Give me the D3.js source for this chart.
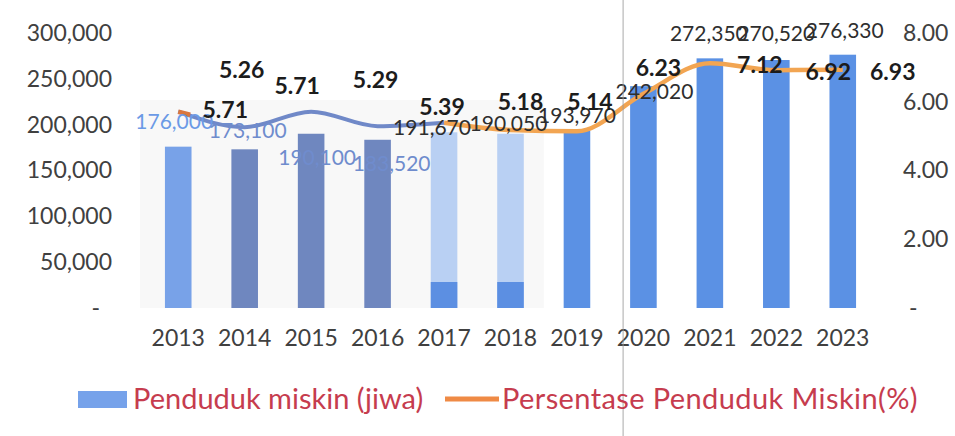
<!DOCTYPE html>
<html lang="id">
<head>
<meta charset="utf-8">
<script src="https://cdnjs.cloudflare.com/ajax/libs/d3/7.8.5/d3.min.js"></script>
<style>
  body { margin: 0; background: #fff; }
  text { font-family: Lato, "Noto Sans", sans-serif; }
</style>
</head>
<body>
<script>
var w = 955, h = 436;

var years = ["2013", "2014", "2015", "2016", "2017", "2018", "2019", "2020", "2021", "2022", "2023"];
var miskin = [176000, 173100, 190100, 183520, 191670, 190050, 193970, 242020, 272350, 270520, 276330];
var persen = [5.71, 5.26, 5.71, 5.29, 5.39, 5.18, 5.14, 6.23, 7.12, 6.92, 6.93];
var leftTicks = [0, 50000, 100000, 150000, 200000, 250000, 300000];
var rightTicks = [0, 2, 4, 6, 8];

// label nudges (dx, dy) from the scaled point, the source chart has them scattered
var barNudge = [[-4, -25], [3, -19], [6, 24], [14, 24], [-12, -5], [-2, -10], [0, -15], [11, 6], [-1, -25], [0, -26], [2, -24]];
var lineNudge = [[47, -2], [-3, -57], [-14, -26], [-2, -46], [-2, -16], [10, -28], [13, -29], [15, -26], [50, 2], [52, 2], [50, 2]];

var svg = d3.select("body").append("svg")
    .attr("width", w)
    .attr("height", h);

var x = d3.scaleBand().domain(years).range([145, 876]).paddingInner(0.6).paddingOuter(0.3);
var y = d3.scaleLinear().domain([0, 300000]).range([308, 33]);
var y2 = d3.scaleLinear().domain([0, 8]).range([308, 33]);

function barColor(i) {
    if (i == 0) return "#78a2e8";
    if (i <= 3) return "#6f87bf";
    if (i <= 5) return "#b9d0f3";
    return "#5b91e4";
}

// faint plot backdrop on the left part
svg.append("rect")
    .attr("x", x("2013") - 25).attr("y", 100)
    .attr("width", x("2018") + x.bandwidth() + 20 - (x("2013") - 25))
    .attr("height", 208)
    .attr("fill", "#f8f8f8");

// bars
svg.selectAll("rect.bar")
    .data(miskin)
    .enter()
    .append("rect")
    .attr("class", "bar")
    .attr("x", (d, i) => x(years[i]))
    .attr("y", d => y(d))
    .attr("width", x.bandwidth())
    .attr("height", d => y(0) - y(d))
    .attr("fill", (d, i) => barColor(i));

// darker base on the two pale bars
svg.selectAll("rect.base")
    .data(miskin.slice(4, 6))
    .enter()
    .append("rect")
    .attr("x", (d, i) => x(years[i + 4]))
    .attr("y", y(0) - 26)
    .attr("width", x.bandwidth())
    .attr("height", 26)
    .attr("fill", "#5c8fe2");

// line, blue-ish early part then orange
var pts = persen.map((p, i) => [x(years[i]) + x.bandwidth() / 2, y2(p)]);
var line = d3.line().curve(d3.curveMonotoneX);
svg.append("path")
    .attr("d", line(pts.slice(4)))
    .attr("fill", "none")
    .attr("stroke", "#f2a552")
    .attr("stroke-width", 4.5);
svg.append("path")
    .attr("d", line(pts.slice(0, 5)))
    .attr("fill", "none")
    .attr("stroke", "#7089c8")
    .attr("stroke-width", 4);
svg.append("path")
    .attr("d", line([pts[0], [pts[0][0] + 12, pts[0][1] + 3]]))
    .attr("fill", "none")
    .attr("stroke", "#d9773f")
    .attr("stroke-width", 4.5);

// bar value labels
svg.selectAll("text.bv")
    .data(miskin)
    .enter()
    .append("text")
    .attr("x", (d, i) => x(years[i]) + x.bandwidth() / 2 + barNudge[i][0])
    .attr("y", (d, i) => y(d) + barNudge[i][1])
    .attr("dy", "0.35em")
    .attr("text-anchor", "middle")
    .attr("font-size", "21px")
    .attr("fill", (d, i) => i == 0 ? "#6b9ae6" : (i <= 3 ? "#6f8ccd" : "#2e2e2e"))
    .text(d => d3.format(",")(d));

// line value labels
svg.selectAll("text.lv")
    .data(persen)
    .enter()
    .append("text")
    .attr("x", (d, i) => pts[i][0] + lineNudge[i][0])
    .attr("y", (d, i) => pts[i][1] + lineNudge[i][1])
    .attr("dy", "0.35em")
    .attr("text-anchor", "middle")
    .attr("font-size", "23px")
    .attr("font-weight", "bold")
    .attr("fill", "#1c1c1c")
    .text(d => d.toFixed(2));

// axes
var fmtL = d => d == 0 ? "-" : d3.format(",")(d);
var fmtR = d => d == 0 ? "-" : d3.format(".2f")(d);

var gl = svg.append("g").attr("transform", "translate(112,0)")
    .call(d3.axisLeft(y).tickValues(leftTicks).tickFormat(fmtL).tickSize(0).tickPadding(0));
var gr = svg.append("g").attr("transform", "translate(903,0)")
    .call(d3.axisRight(y2).tickValues(rightTicks).tickFormat(fmtR).tickSize(0).tickPadding(0));
var gx = svg.append("g").attr("transform", "translate(0,330)")
    .call(d3.axisBottom(x).tickSize(0).tickPadding(0));

[gl, gr, gx].forEach(g => {
    g.select(".domain").remove();
    g.selectAll("text")
        .attr("font-family", "Lato, 'Noto Sans', sans-serif")
        .attr("font-size", "23px")
        .attr("fill", "#404040");
});
gl.selectAll("text").filter(d => d == 0).attr("dx", "-12px");
gr.selectAll("text").filter(d => d == 0).attr("dx", "6px");

// scan artefact vertical line
svg.append("line")
    .attr("x1", x("2020") - 7).attr("x2", x("2020") - 7)
    .attr("y1", 0).attr("y2", h)
    .attr("stroke", "#9a9a9a").attr("stroke-width", 1.2).attr("opacity", 0.7);

// legend
var lg = svg.append("g");
lg.append("rect").attr("x", 78).attr("y", 391).attr("width", 49).attr("height", 17).attr("fill", "#76a2ea");
lg.append("text").attr("x", 133).attr("y", 409).attr("font-size", "29px").attr("fill", "#c63c4e")
    .text("Penduduk miskin (jiwa)");
lg.append("line").attr("x1", 445).attr("x2", 499).attr("y1", 399).attr("y2", 399)
    .attr("stroke", "#ef8a45").attr("stroke-width", 5);
lg.append("text").attr("x", 502).attr("y", 409).attr("font-size", "29px").attr("fill", "#c63c4e")
    .attr("letter-spacing", "0.4px")
    .text("Persentase Penduduk Miskin(%)");
</script>
</body>
</html>
